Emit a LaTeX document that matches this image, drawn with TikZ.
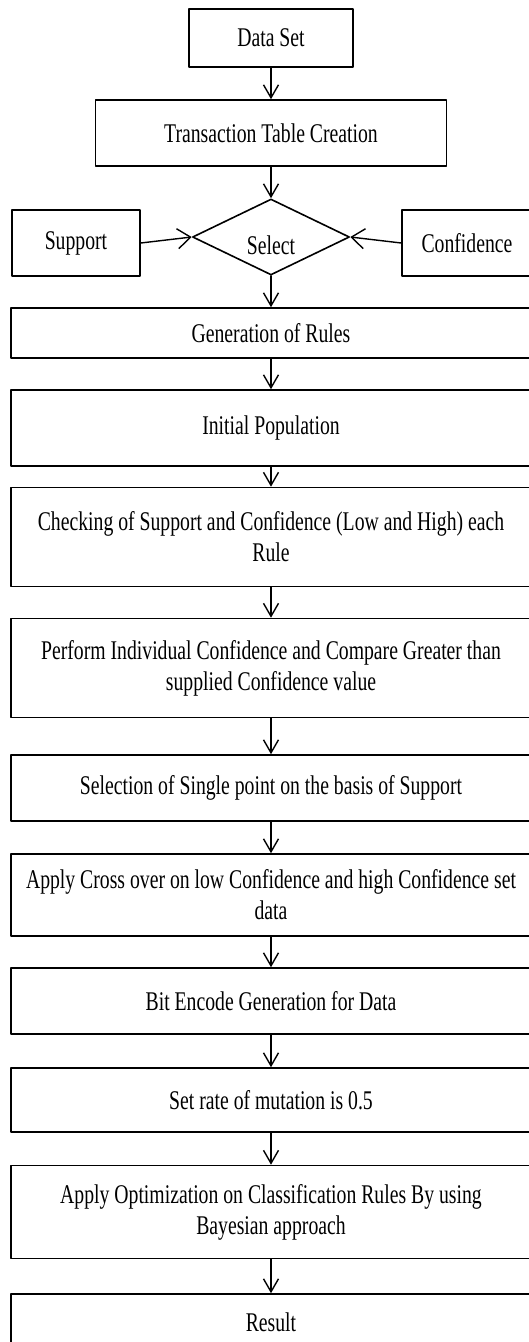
\documentclass[tikz,border=0pt]{standalone}
\usepackage{fontspec}
\setmainfont{Liberation Serif}[FakeStretch=0.73]
\usetikzlibrary{arrows.meta,shapes.geometric}

\begin{document}
\begin{tikzpicture}
  [line cap=round,line join=round,>={Straight Barb[length=13pt,width=15pt]},x=1pt,y=-1pt,
   stage/.style={draw,line width=1.6pt,minimum width=520pt,inner sep=0pt,align=center,font=\fontsize{27}{31}\selectfont},
   flow/.style={->,line width=1.4pt},
   sideflow/.style={->,line width=1.4pt,>={Straight Barb[length=13pt,width=20pt]}}]
  \clip (0,0) rectangle (529,1342);
  \node[stage,minimum width=164pt,minimum height=58pt] (ds) at (271,38) {Data Set};
  \node[stage,minimum width=351pt,minimum height=66pt] (tt) at (271,133) {Transaction Table Creation};
  \node[draw,diamond,line width=1.6pt,minimum width=157pt,minimum height=76pt,inner sep=0pt,
        label={[font=\fontsize{27}{31}\selectfont,yshift=-8pt]center:Select}] (sel) at (271,237) {};
  \node[stage,minimum width=128pt,minimum height=66pt] (sup) at (76,243) {Support};
  \node[stage,minimum width=130pt,minimum height=66pt] (conf) at (467,243) {Confidence};
  \node[stage,minimum height=50pt] (gr) at (271,333) {Generation of Rules};
  \node[stage,minimum height=76pt] (ip) at (271,428) {Initial Population};
  \node[stage,minimum height=99pt] (ck) at (271,537) {Checking of Support and Confidence (Low and High) each\\Rule};
  \node[stage,minimum height=99pt] (pf) at (271,668) {Perform Individual Confidence and Compare Greater than\\supplied Confidence value};
  \node[stage,minimum height=66pt] (sl) at (271,788) {Selection of Single point on the basis of Support};
  \node[stage,minimum height=82pt] (co) at (271,895) {Apply Cross over on low Confidence and high Confidence set\\data};
  \node[stage,minimum height=66pt] (be) at (271,1001) {Bit Encode Generation for Data};
  \node[stage,minimum height=64pt] (mr) at (271,1100) {Set rate of mutation is 0.5};
  \node[stage,minimum height=93pt] (op) at (271,1212) {Apply Optimization on Classification Rules By using\\Bayesian approach};
  \node[stage,minimum height=56pt] (rs) at (271,1322) {Result};
  % connectors
  \draw[flow] (ds) -- (tt);
  \draw[flow] (tt) -- (sel);
  \draw[sideflow] (sup.east) -- (sel.west);
  \draw[sideflow] (conf.west) -- (sel.east);
  \foreach \a/\b in {sel/gr,gr/ip,ip/ck,ck/pf,pf/sl,sl/co,co/be,be/mr,mr/op,op/rs}
    \draw[flow] (\a) -- (\b);
\end{tikzpicture}
\end{document}
